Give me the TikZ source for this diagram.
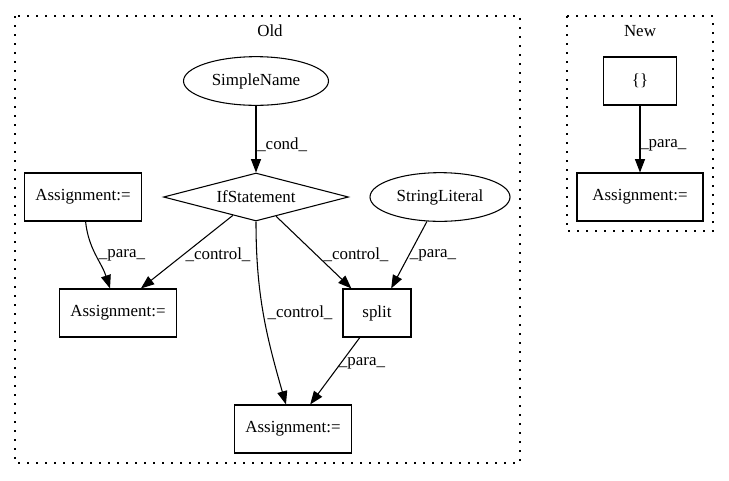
\documentclass[tikz,border=0pt]{standalone}
\usepackage{fontspec}
\setmainfont{Liberation Serif}
\definecolor{gvInk}{HTML}{000000}
\usetikzlibrary{arrows.meta,shapes.geometric}

\begin{document}
\begin{tikzpicture}[x=0.75pt, y=0.75pt,
  every node/.style={font=\fontsize{12.7}{15}\selectfont},
  box/.style={draw=gvInk, line width=0.8pt, minimum width=87.75pt, minimum height=36pt, inner sep=0pt},
  oval/.style={draw=gvInk, line width=0.8pt, ellipse, minimum height=36.5pt, inner sep=0pt},
  edge/.style={gvInk, line width=0.8pt, -{Triangle[length=10pt, width=7.5pt]}},
  lbl/.style={text=gvInk, inner sep=0pt},
  cluster/.style={gvInk, line width=0.8pt, dash pattern=on 1.5pt off 5.25pt}]
  \useasboundingbox (0,0) rectangle (729,-480);

  % Clusters
  \draw[cluster] (15,-16) rectangle (520,-463);
  \node[lbl] (oldTitle) at (270,-31) {Old};
  \draw[cluster] (567,-16) rectangle (713,-231);
  \node[lbl] (newTitle) at (640,-31) {New};

  % Old: nodes
  \node[oval, minimum width=108.75pt] (simpleName) at (256,-81) {SimpleName};
  \node[draw=gvInk, line width=0.8pt, diamond, aspect=3.85, minimum width=138.75pt, minimum height=36pt, inner sep=0pt] (ifStmt) at (256,-197) {IfStatement};
  \node[oval, minimum width=105pt] (strLit) at (440,-197) {StringLiteral};
  \node[box] (assignA) at (83,-197) {Assignment:=};
  \node[box] (assignB) at (118,-313) {Assignment:=};
  \node[box, minimum width=51pt] (split) at (377,-313) {split};
  \node[box] (assignC) at (293,-429) {Assignment:=};

  % Old: edges
  \draw[edge] (simpleName) -- (ifStmt);
  \node[lbl, anchor=west] (condLbl) at (257,-145) {\_cond\_};

  \draw[edge] (assignA) to[out=-84, in=108] (assignB);
  \node[lbl] (paraLblA) at (122,-255) {\_para\_};

  \draw[edge] (ifStmt) -- (assignB.47);
  \node[lbl] (ctrlLblA) at (218,-255) {\_control\_};

  \draw[edge] (ifStmt) to[out=-90, in=106] (assignC);
  \node[lbl] (ctrlLblB) at (300,-313) {\_control\_};

  \draw[edge] (ifStmt) -- (split);
  \node[lbl] (ctrlLblC) at (356,-255) {\_control\_};

  \draw[edge] (strLit) -- (split.60);
  \node[lbl] (paraLblB) at (433,-255) {\_para\_};

  \draw[edge] (split.235) -- (assignC.55);
  \node[lbl] (paraLblC) at (362,-363) {\_para\_};

  % New
  \node[box, minimum width=54.75pt] (braces) at (640,-81) {\{\}};
  \node[box, minimum width=94.5pt] (assignNew) at (640,-197) {Assignment:=};
  \draw[edge] (braces) -- (assignNew);
  \node[lbl, anchor=west] (paraLblNew) at (640,-145) {\_para\_};

\end{tikzpicture}
\end{document}
